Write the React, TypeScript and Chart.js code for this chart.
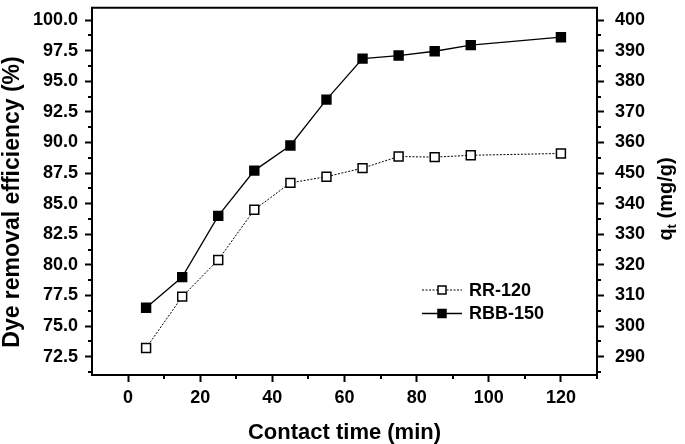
import React, { useEffect, useRef } from 'react';
import { Chart, registerables } from 'chart.js';

Chart.register(...registerables);

// ---- data ----
const contactTime = [5, 15, 25, 35, 45, 55, 65, 75, 85, 95, 120];
const rr120 = [73.2, 77.4, 80.4, 84.5, 86.7, 87.2, 87.9, 88.85, 88.8, 88.95, 89.1];
const rbb150 = [76.5, 79.0, 84.0, 87.7, 89.75, 93.5, 96.85, 97.1, 97.45, 97.95, 98.6];

const seriesNames = ['RR-120', 'RBB-150'];

const xTicks = [0, 20, 40, 60, 80, 100, 120];
const xMinorTicks = [10, 30, 50, 70, 90, 110, 130];
const leftTicks = [72.5, 75, 77.5, 80, 82.5, 85, 87.5, 90, 92.5, 95, 97.5, 100];
const leftMinorTicks = [71.25, 73.75, 76.25, 78.75, 81.25, 83.75, 86.25, 88.75, 91.25, 93.75, 96.25, 98.75];
const rightTicks = [290, 300, 310, 320, 330, 340, 350, 360, 370, 380, 390, 400];
const rightTickLabels = ['290', '300', '310', '320', '330', '340', '450', '360', '370', '380', '390', '400'];
const rightMinorTicks = [285, 295, 305, 315, 325, 335, 345, 355, 365, 375, 385, 395];

const xTitle = 'Contact time (min)';
const leftTitle = 'Dye removal efficiency (%)';
const rightTitleMain = 'q';
const rightTitleSub = 't';
const rightTitleRest = ' (mg/g)';

const FONT = '"Liberation Sans", Arial, Helvetica, sans-serif';

const decorPlugin = {
  id: 'decor',
  afterDraw(chart: any) {
    const { ctx, chartArea: ca, scales } = chart;
    ctx.save();
    ctx.strokeStyle = '#000';
    ctx.fillStyle = '#000';
    ctx.lineWidth = 2;
    ctx.setLineDash([]);
    // top border
    ctx.beginPath();
    ctx.moveTo(ca.left - 1, ca.top);
    ctx.lineTo(ca.right + 1, ca.top);
    ctx.stroke();

    // minor ticks
    const minorLen = 4;
    ctx.beginPath();
    leftMinorTicks.forEach((v) => {
      const y = Math.round(scales.y.getPixelForValue(v));
      ctx.moveTo(ca.left, y);
      ctx.lineTo(ca.left - minorLen, y);
    });
    rightMinorTicks.forEach((v) => {
      const y = Math.round(scales.y2.getPixelForValue(v));
      ctx.moveTo(ca.right, y);
      ctx.lineTo(ca.right + minorLen, y);
    });
    xMinorTicks.forEach((v) => {
      const x = Math.round(scales.x.getPixelForValue(v));
      ctx.moveTo(x, ca.bottom);
      ctx.lineTo(x, ca.bottom + minorLen);
    });
    ctx.stroke();

    // legend
    const lx0 = ca.right - 175;
    const lx1 = ca.right - 135;
    const lxm = (lx0 + lx1) / 2;
    const tx = ca.right - 128;
    const rows = [ca.bottom - 85, ca.bottom - 61.5];
    const styles = [
      { dash: [2, 1.5], width: 1, fill: '#fff' },
      { dash: [], width: 1.3, fill: '#000' },
    ];
    ctx.font = `bold 18px ${FONT}`;
    ctx.textBaseline = 'middle';
    ctx.textAlign = 'left';
    rows.forEach((ry, i) => {
      const st = styles[i];
      ctx.lineWidth = st.width;
      ctx.setLineDash(st.dash);
      ctx.beginPath();
      ctx.moveTo(lx0, ry);
      ctx.lineTo(lx1, ry);
      ctx.stroke();
      ctx.setLineDash([]);
      ctx.lineWidth = 1.5;
      ctx.fillStyle = st.fill;
      ctx.fillRect(lxm - 4, ry - 4, 8, 8);
      ctx.strokeRect(lxm - 4, ry - 4, 8, 8);
      ctx.fillStyle = '#000';
      ctx.fillText(seriesNames[i], tx, ry + 1);
    });

    // x title
    ctx.font = `bold 22px ${FONT}`;
    ctx.textAlign = 'center';
    ctx.textBaseline = 'alphabetic';
    ctx.fillText(xTitle, (ca.left + ca.right) / 2, 439);

    // left title
    ctx.save();
    ctx.translate(18.5, 202);
    ctx.rotate(-Math.PI / 2);
    ctx.font = `bold 23px ${FONT}`;
    ctx.textAlign = 'center';
    ctx.textBaseline = 'alphabetic';
    ctx.fillText(leftTitle, 0, 0);
    ctx.restore();

    // right title
    ctx.save();
    ctx.translate(672, 199);
    ctx.rotate(-Math.PI / 2);
    ctx.textAlign = 'left';
    ctx.textBaseline = 'alphabetic';
    const mainFont = `bold 20px ${FONT}`;
    const subFont = `bold 13px ${FONT}`;
    ctx.font = mainFont;
    const w1 = ctx.measureText(rightTitleMain).width;
    const w3 = ctx.measureText(rightTitleRest).width;
    ctx.font = subFont;
    const w2 = ctx.measureText(rightTitleSub).width;
    let x = -(w1 + w2 + w3) / 2;
    ctx.font = mainFont;
    ctx.fillText(rightTitleMain, x, 0);
    x += w1;
    ctx.font = subFont;
    ctx.fillText(rightTitleSub, x, 4);
    x += w2;
    ctx.font = mainFont;
    ctx.fillText(rightTitleRest, x, 0);
    ctx.restore();

    ctx.restore();
  },
};

function zeroPad(s: any) {
  s.paddingTop = 0;
  s.paddingBottom = 0;
  s.paddingLeft = 0;
  s.paddingRight = 0;
}

export default function App() {
  const ref = useRef<HTMLCanvasElement | null>(null);

  useEffect(() => {
    if (!ref.current) return;
    const tickFont = { family: FONT, weight: 'bold' as const, size: 18 };
    const gridCfg = {
      display: true,
      drawOnChartArea: false,
      drawTicks: true,
      tickLength: 7,
      tickWidth: 2,
      tickColor: '#000',
      color: '#000',
    };
    const chart = new Chart(ref.current, {
      type: 'line',
      data: {
        datasets: [
          {
            label: seriesNames[0],
            data: contactTime.map((t, i) => ({ x: t, y: rr120[i] })),
            borderColor: '#000',
            borderWidth: 1,
            borderDash: [2, 1.5],
            pointStyle: 'rect',
            pointRadius: 6.3,
            pointBackgroundColor: '#fff',
            pointBorderColor: '#000',
            pointBorderWidth: 1.5,
            yAxisID: 'y',
          },
          {
            label: seriesNames[1],
            data: contactTime.map((t, i) => ({ x: t, y: rbb150[i] })),
            borderColor: '#000',
            borderWidth: 1.3,
            pointStyle: 'rect',
            pointRadius: 6.3,
            pointBackgroundColor: '#000',
            pointBorderColor: '#000',
            pointBorderWidth: 1.5,
            yAxisID: 'y',
          },
        ],
      },
      options: {
        responsive: false,
        animation: false,
        devicePixelRatio: 1,
        layout: { padding: { top: 1, left: 0, right: 0, bottom: 0 } },
        plugins: {
          legend: { display: false },
          tooltip: { enabled: false },
        },
        scales: {
          x: {
            type: 'linear',
            position: 'bottom',
            min: -10,
            max: 130,
            afterBuildTicks: (s: any) => {
              s.ticks = xTicks.map((v) => ({ value: v }));
            },
            afterFit: (s: any) => {
              s.height = 69;
              zeroPad(s);
            },
            ticks: {
              font: tickFont,
              color: '#000',
              padding: 5,
              maxRotation: 0,
              autoSkip: false,
              callback: (v: any) => String(v),
            },
            grid: gridCfg,
            border: { display: true, color: '#000', width: 2 },
          },
          y: {
            type: 'linear',
            position: 'left',
            min: 71,
            max: 101,
            afterBuildTicks: (s: any) => {
              s.ticks = leftTicks.map((v) => ({ value: v }));
            },
            afterFit: (s: any) => {
              s.width = 92;
              zeroPad(s);
            },
            ticks: {
              font: tickFont,
              color: '#000',
              padding: 7,
              autoSkip: false,
              callback: (v: any) => Number(v).toFixed(1),
            },
            grid: gridCfg,
            border: { display: true, color: '#000', width: 2 },
          },
          y2: {
            type: 'linear',
            position: 'right',
            display: true,
            min: 284,
            max: 404,
            afterBuildTicks: (s: any) => {
              s.ticks = rightTicks.map((v) => ({ value: v }));
            },
            afterFit: (s: any) => {
              s.width = 88;
              zeroPad(s);
            },
            ticks: {
              font: tickFont,
              color: '#000',
              padding: 11,
              autoSkip: false,
              callback: (v: any) => {
                const idx = rightTicks.indexOf(Number(v));
                return idx >= 0 ? rightTickLabels[idx] : '';
              },
            },
            grid: gridCfg,
            border: { display: true, color: '#000', width: 2 },
          },
        },
      } as any,
      plugins: [decorPlugin],
    });
    return () => chart.destroy();
  }, []);

  return (
    <div style={{ position: 'absolute', left: 0, top: 0, width: 685, height: 444, background: '#fff' }}>
      <canvas ref={ref} width={685} height={444} style={{ width: 685, height: 444, display: 'block' }} />
    </div>
  );
}
